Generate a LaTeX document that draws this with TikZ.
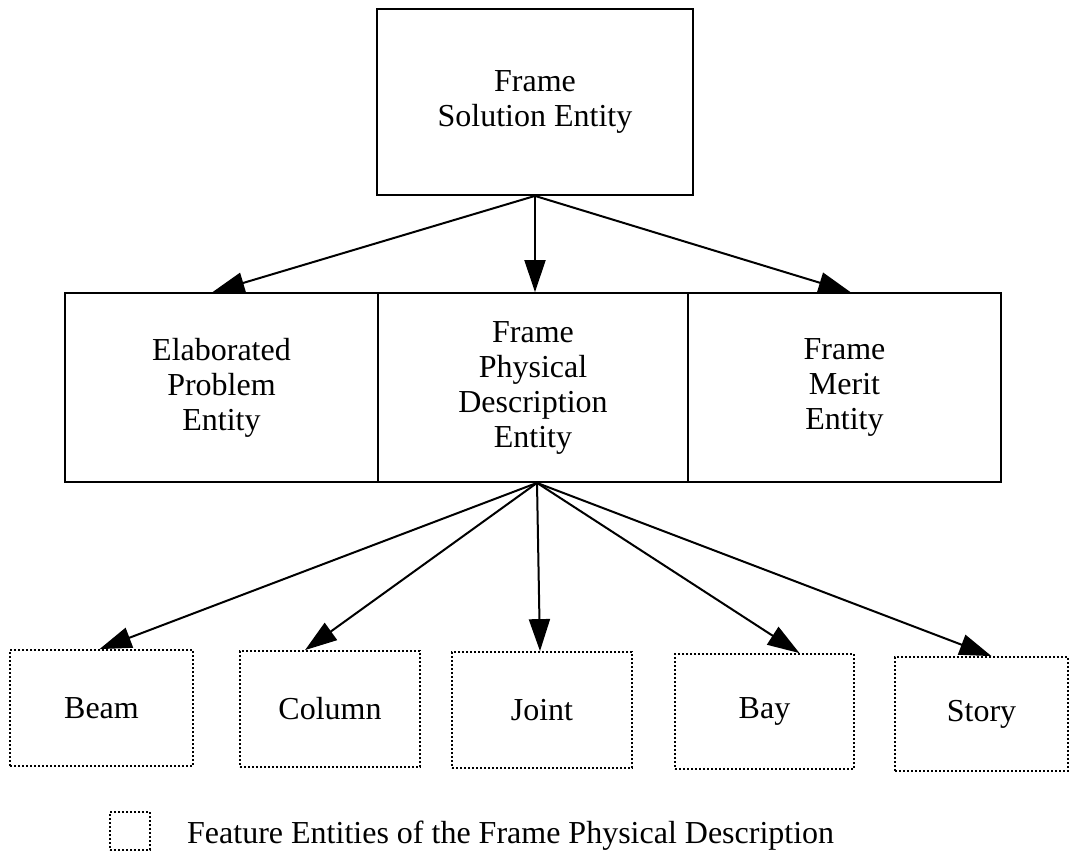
\documentclass[tikz,border=0pt]{standalone}
\usepackage{fontspec}
\setmainfont{Liberation Serif}
\usetikzlibrary{arrows.meta}
\begin{document}
\begin{tikzpicture}[x=1pt,y=-1pt,
  every node/.style={font=\fontsize{32}{35}\selectfont, align=center, inner sep=0pt},
  entity/.style={draw, line width=1.8pt, rectangle},
  feature/.style={draw, line width=1.8pt, rectangle, dash pattern=on 1.6pt off 2.4pt},
  link/.style={line width=2pt, -{Triangle[length=32pt,width=21pt]}}]
\useasboundingbox (0,0) rectangle (1071,857);

% solution entity
\node[entity, minimum width=316pt, minimum height=186pt] (sol) at (535,102) {Frame\\Solution Entity};

% second level entities
\node[entity, minimum width=313pt, minimum height=189pt] (epe) at (221.5,387.5) {Elaborated\\Problem\\Entity};
\node[entity, minimum width=310pt, minimum height=189pt] (fpd) at (533,387.5) {Frame\\Physical\\Description\\Entity};
\node[entity, minimum width=313pt, minimum height=189pt] (fme) at (844.5,387.5) {Frame\\Merit\\Entity};

% feature entities
\node[feature, minimum width=183pt, minimum height=116pt] (beam) at (101.5,708) {Beam};
\node[feature, minimum width=180pt, minimum height=116pt] (column) at (330,709) {Column};
\node[feature, minimum width=180pt, minimum height=116pt] (joint) at (542,710) {Joint};
\node[feature, minimum width=179pt, minimum height=115pt] (bay) at (764.5,711.5) {Bay};
\node[feature, minimum width=173pt, minimum height=114pt] (story) at (981.5,714) {Story};

% legend
\node[feature, minimum width=40pt, minimum height=38pt] (key) at (130,831) {};
\node[anchor=base west] (keytext) at (187,843) {Feature Entities of the Frame Physical Description};

% connectors
\draw[link] (sol.south) -- ([xshift=-9pt]epe.north);
\draw[link] (sol.south) -- ([xshift=2pt]fpd.north);
\draw[link] (sol.south) -- ([xshift=6pt]fme.north);

\draw[link] ([xshift=4pt]fpd.south) -- ([xshift=-2pt]beam.north);
\draw[link] ([xshift=4pt]fpd.south) -- ([xshift=-25pt]column.north);
\draw[link] ([xshift=4pt]fpd.south) -- ([xshift=-2pt]joint.north);
\draw[link] ([xshift=4pt]fpd.south) -- ([xshift=35pt]bay.north);
\draw[link] ([xshift=4pt]fpd.south) -- ([xshift=10pt]story.north);
\end{tikzpicture}
\end{document}
